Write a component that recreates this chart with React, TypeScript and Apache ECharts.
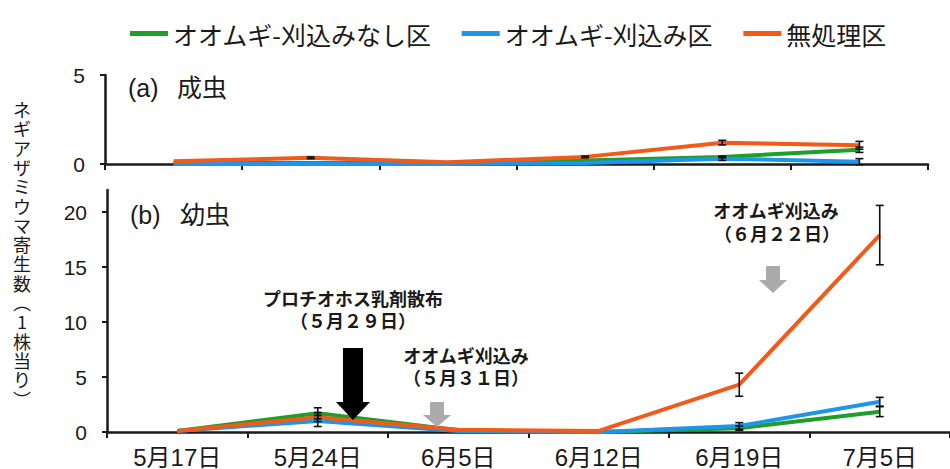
import React, { useEffect, useRef } from "react";
import * as echarts from "echarts";

// Survey dates (category axis shared by both panels)
const dates = ["5月17日", "5月24日", "6月5日", "6月12日", "6月19日", "7月5日"];

const seriesNames = ["オオムギ-刈込みなし区", "オオムギ-刈込み区", "無処理区"];
const seriesColors = ["#1f9e2c", "#1e96e8", "#f25a17"];

// (a) adults per plant: means and standard errors
const adultUncut = [0.05, 0.05, 0.05, 0.2, 0.4, 0.8];
const adultCut = [0.0, 0.0, 0.0, 0.05, 0.3, 0.13];
const adultControl = [0.15, 0.35, 0.1, 0.4, 1.2, 1.05];
const adultUncutErr = [0, 0, 0, 0, 0.05, 0.15];
const adultCutErr = [0, 0, 0, 0, 0.1, 0.17];
const adultControlErr = [0, 0.05, 0, 0.05, 0.13, 0.22];

// (b) larvae per plant: means and standard errors
const larvaUncut = [0.1, 1.7, 0.15, 0.0, 0.35, 1.85];
const larvaCut = [0.1, 1.0, 0.1, 0.0, 0.55, 2.75];
const larvaControl = [0.1, 1.35, 0.2, 0.1, 4.3, 17.9];
const larvaUncutErr = [0, 0.5, 0, 0, 0.2, 0.45];
const larvaCutErr = [0, 0.5, 0, 0, 0.3, 0.4];
const larvaControlErr = [0, 0.4, 0, 0, 1.05, 2.7];

const yTicksAdult = [0, 5];
const yTicksLarva = [0, 5, 10, 15, 20];

const FONT = "'Liberation Sans', 'Noto Sans CJK JP', sans-serif";
const JP = "'Noto Sans CJK JP', sans-serif";
const INK = "#1a1a1a";

// vertical y-axis title, one glyph per row (vertical-form parentheses)
const yTitle = "ネギアザミウマ寄生数︵1株当り︶";

function errData(means: number[], errs: number[]) {
  return means
    .map((m, i) => [i, m - errs[i], m + errs[i], errs[i]])
    .filter((d) => d[3] > 0);
}

function errorBarRender(params: any, api: any) {
  const x = api.value(0);
  const top = api.coord([x, api.value(2)]);
  const bot = api.coord([x, api.value(1)]);
  const w = 4;
  const style = { stroke: "#111", lineWidth: 1.6 };
  return {
    type: "group",
    children: [
      { type: "line", shape: { x1: top[0], y1: top[1], x2: bot[0], y2: bot[1] }, style },
      { type: "line", shape: { x1: top[0] - w, y1: top[1], x2: top[0] + w, y2: top[1] }, style },
      { type: "line", shape: { x1: bot[0] - w, y1: bot[1], x2: bot[0] + w, y2: bot[1] }, style },
    ],
  };
}

function lineSeries(name: string, color: string, data: number[], axis: number) {
  return {
    name,
    type: "line",
    xAxisIndex: axis,
    yAxisIndex: axis,
    data,
    symbol: "none",
    showSymbol: false,
    lineStyle: { width: 4, color },
    itemStyle: { color },
    z: 2,
  };
}

function errSeries(means: number[], errs: number[], axis: number) {
  return {
    type: "custom",
    xAxisIndex: axis,
    yAxisIndex: axis,
    renderItem: errorBarRender,
    encode: { x: 0, y: [1, 2] },
    data: errData(means, errs),
    z: 4,
    silent: true,
  };
}

const axisLine = { lineStyle: { color: INK, width: 2.5 } };

function arrow(cx: number, top: number, headTop: number, tip: number, shaftHalf: number, headHalf: number, color: string) {
  return {
    type: "polygon",
    shape: {
      points: [
        [cx - shaftHalf, top],
        [cx + shaftHalf, top],
        [cx + shaftHalf, headTop],
        [cx + headHalf, headTop],
        [cx, tip],
        [cx - headHalf, headTop],
        [cx - shaftHalf, headTop],
      ],
    },
    style: { fill: color },
    z: 10,
  };
}

function label(text: string, x: number, y: number, size: number, align: string, weight = "normal", family = FONT) {
  return {
    type: "text",
    x,
    y,
    style: {
      text,
      fill: INK,
      font: `${weight} ${size}px ${family}`,
      textAlign: align,
      textVerticalAlign: "middle",
    },
    z: 10,
  };
}

export default function App() {
  const ref = useRef<HTMLDivElement>(null);

  useEffect(() => {
    if (!ref.current) return;
    const chart = echarts.init(ref.current, undefined, { renderer: "svg" });
    const titleGlyphs = Array.from(yTitle).map((ch, i) =>
      label(ch, 22, 109 + i * 19.3, 18, "center", "normal", JP)
    );
    chart.setOption({
      animation: false,
      backgroundColor: "#ffffff",
      legend: {
        data: seriesNames,
        left: 125,
        top: 16,
        icon: "rect",
        itemWidth: 38,
        itemHeight: 5,
        itemGap: 30,
        textStyle: { fontSize: 25, color: INK, fontFamily: JP },
      },
      grid: [
        { left: 105, top: 75, width: 823, height: 89 },
        { left: 107, top: 190, width: 849, height: 242 },
      ],
      xAxis: [
        {
          type: "category",
          gridIndex: 0,
          data: dates,
          boundaryGap: true,
          axisLine,
          axisTick: { show: true, length: 6, lineStyle: { color: INK, width: 2 } },
          axisLabel: { show: false },
        },
        {
          type: "category",
          gridIndex: 1,
          data: dates,
          boundaryGap: true,
          axisLine,
          axisTick: { show: true, length: 6, lineStyle: { color: INK, width: 2 } },
          axisLabel: { fontSize: 24, color: INK, fontFamily: FONT, margin: 13 },
        },
      ],
      yAxis: [
        {
          type: "value",
          gridIndex: 0,
          min: 0,
          max: 5,
          interval: 5,
          splitLine: { show: false },
          axisLine: { show: true, ...axisLine },
          axisTick: { show: true, length: 5, lineStyle: { color: INK, width: 2 } },
          axisLabel: { fontSize: 21, color: INK, fontFamily: FONT, margin: 20, customValues: yTicksAdult },
        },
        {
          type: "value",
          gridIndex: 1,
          min: 0,
          max: 22,
          splitLine: { show: false },
          axisLine: { show: true, ...axisLine },
          axisTick: { show: true, length: 5, lineStyle: { color: INK, width: 2 }, customValues: yTicksLarva },
          axisLabel: { fontSize: 21, color: INK, fontFamily: FONT, margin: 20, customValues: yTicksLarva },
        },
      ],
      series: [
        lineSeries(seriesNames[0], seriesColors[0], adultUncut, 0),
        lineSeries(seriesNames[1], seriesColors[1], adultCut, 0),
        lineSeries(seriesNames[2], seriesColors[2], adultControl, 0),
        lineSeries(seriesNames[0], seriesColors[0], larvaUncut, 1),
        lineSeries(seriesNames[1], seriesColors[1], larvaCut, 1),
        lineSeries(seriesNames[2], seriesColors[2], larvaControl, 1),
        errSeries(adultUncut, adultUncutErr, 0),
        errSeries(adultCut, adultCutErr, 0),
        errSeries(adultControl, adultControlErr, 0),
        errSeries(larvaUncut, larvaUncutErr, 1),
        errSeries(larvaCut, larvaCutErr, 1),
        errSeries(larvaControl, larvaControlErr, 1),
      ],
      graphic: [
        ...titleGlyphs,
        label("(a)", 128, 88, 25, "left"),
        label("成虫", 177, 88, 25, "left"),
        label("(b)", 130, 215, 25, "left"),
        label("幼虫", 180, 215, 25, "left"),
        label("プロチオホス乳剤散布", 353, 300, 18, "center", "bold"),
        label("（５月２９日）", 353, 322, 18, "center", "bold"),
        label("オオムギ刈込み", 466, 357, 18, "center", "bold"),
        label("（５月３１日）", 466, 379, 18, "center", "bold"),
        label("オオムギ刈込み", 776, 212, 18, "center", "bold"),
        label("（６月２２日）", 777, 235, 18, "center", "bold"),
        arrow(353, 348, 402, 420, 10, 17, "#000000"),
        arrow(437, 402, 415, 427, 7, 14, "#ababab"),
        arrow(773, 266, 280, 293, 7, 14, "#ababab"),
      ],
    });
    return () => chart.dispose();
  }, []);

  return (
    <div
      ref={ref}
      style={{ position: "fixed", left: 0, top: 0, width: 950, height: 469 }}
    />
  );
}
